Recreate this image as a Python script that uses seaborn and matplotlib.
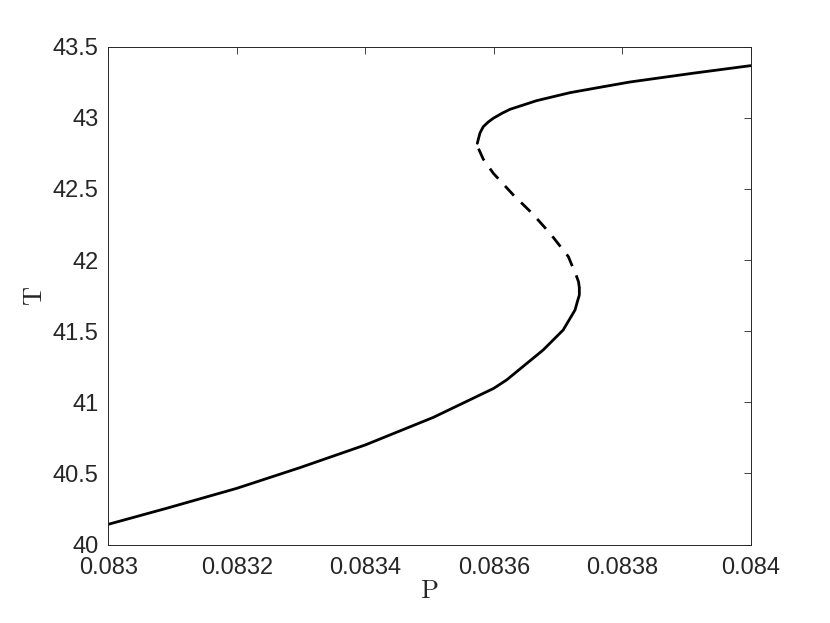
import numpy as np
import matplotlib
matplotlib.use("Agg")
import matplotlib.pyplot as plt
import seaborn as sns
import pandas as pd

# values (P, T) along each branch
# lower stable branch
p_low = [0.08300, 0.083091, 0.083200, 0.083298, 0.083400, 0.083506, 0.083600,
         0.083620, 0.083677, 0.083708, 0.0837265, 0.0837301, 0.0837332, 0.0837332]
t_low = [40.142, 40.255, 40.395, 40.540, 40.700, 40.894, 41.098,
         41.157, 41.368, 41.508, 41.649, 41.707, 41.754, 41.804]

# unstable middle branch (dashed)
p_mid = [0.0837332, 0.0837320, 0.0837291, 0.0837161, 0.0836876, 0.0836596,
         0.0836304, 0.0835993, 0.0835837, 0.0835760, 0.0835744]
t_mid = [41.804, 41.846, 41.883, 42.024, 42.188, 42.329,
         42.458, 42.610, 42.709, 42.786, 42.821]

# upper stable branch
p_up = [0.0835744, 0.0835760, 0.0835786, 0.0835837, 0.0835915, 0.0835993,
        0.0836124, 0.0836253, 0.0836669, 0.0837187, 0.0837706, 0.0838121,
        0.0839107, 0.0840000]
t_up = [42.821, 42.850, 42.894, 42.938, 42.971, 42.997,
        43.031, 43.060, 43.121, 43.177, 43.219, 43.252,
        43.314, 43.367]

sns.set_style("white")
plt.rcParams["font.family"] = ["Liberation Sans", "DejaVu Sans"]
plt.rcParams["mathtext.fontset"] = "cm"

fig = plt.figure(figsize=(8.3, 6.23), dpi=100)
ax = fig.add_axes([0.1305, 0.126, 0.774, 0.799])

low = pd.DataFrame({"P": p_low, "T": t_low})
mid = pd.DataFrame({"P": p_mid, "T": t_mid})
up = pd.DataFrame({"P": p_up, "T": t_up})

sns.lineplot(data=low, x="P", y="T", sort=False, estimator=None, color="black", lw=2, ax=ax)
sns.lineplot(data=mid, x="P", y="T", sort=False, estimator=None, color="black", lw=2,
             ax=ax, linestyle=(0, (4.7, 3.6)))
sns.lineplot(data=up, x="P", y="T", sort=False, estimator=None, color="black", lw=2, ax=ax)

ax.set_xlim(0.083, 0.084)
ax.set_ylim(40, 43.5)
ax.set_xticks(np.arange(0.083, 0.08401, 0.0002))
ax.set_xticklabels(["0.083", "0.0832", "0.0834", "0.0836", "0.0838", "0.084"])
ax.set_yticks(np.arange(40, 43.51, 0.5))
ax.set_yticklabels(["40", "40.5", "41", "41.5", "42", "42.5", "43", "43.5"])

ax.tick_params(direction="in", length=5, width=0.6, top=True, right=True,
               labelsize=17, colors="#262626", pad=7)
ax.tick_params(axis="x", pad=9)
for s in ax.spines.values():
    s.set_color("#262626")
    s.set_linewidth(0.7)

ax.set_xlabel(r"$\mathrm{P}$", fontsize=19, color="#262626", labelpad=0)
ax.set_ylabel(r"$\mathrm{T}$", fontsize=19, color="#262626", labelpad=4)

fig.savefig("out.png", dpi=100)
